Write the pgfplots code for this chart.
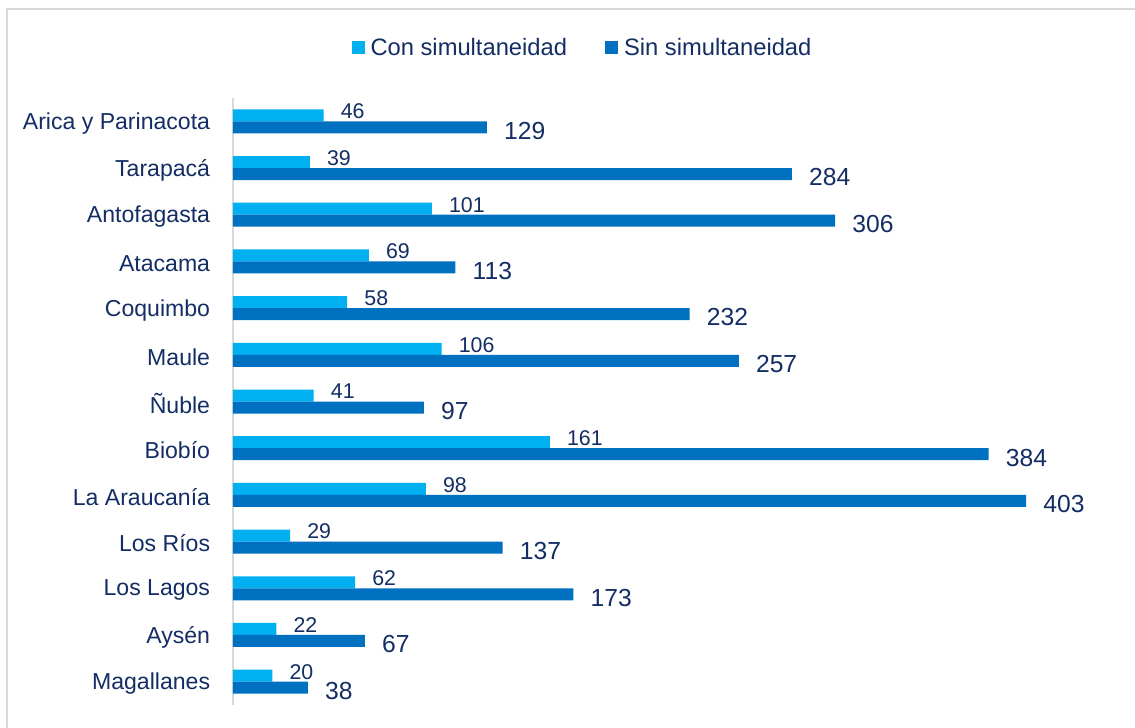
\documentclass[border=0pt]{standalone}
\usepackage{pgfplots}
\pgfplotsset{compat=1.18}
\usepackage{fontspec}
\setmainfont{Liberation Sans}
\definecolor{conc}{HTML}{00B0F0}
\definecolor{sinc}{HTML}{0070C0}
\definecolor{navy}{RGB}{20,45,100}
\definecolor{bordercol}{RGB}{217,217,217}
\definecolor{axcol}{RGB}{217,217,217}
\begin{document}
\begin{tikzpicture}
\useasboundingbox (0,0) rectangle (851.25pt,-546pt);
\clip (0,0) rectangle (851.25pt,-546pt);
\fill[white] (0,0) rectangle (851.25pt,-546pt);
\draw[bordercol, line width=1.5pt] (5.25pt,-6.75pt) rectangle (870pt,-570pt);
\begin{axis}[
  at={(174.75pt,-73.5pt)}, anchor=north west,
  scale only axis, width=664.2pt, height=455.25pt,
  xbar, xmin=0, xmax=450, ymin=-0.5, ymax=12.5,
  axis x line=none, axis y line*=left,
  y axis line style={draw=axcol, line width=0.9pt},
  xtick=\empty,
  ytick={0,...,12},
  yticklabels={Magallanes,Aysén,Los Lagos,Los Ríos,La Araucanía,Biobío,Ñuble,Maule,Coquimbo,Atacama,Antofagasta,Tarapacá,Arica y Parinacota},
  major tick length=0pt,
  yticklabel style={font=\fontsize{17.3}{20}\selectfont, text=navy, inner sep=0pt, xshift=-17pt, yshift=-1.5pt},
  /pgf/number format/assume math mode=true,
  bar width=9pt,
  clip=false,
  legend columns=2,
  legend style={at={(0.3935,1.083)}, anchor=center, draw=none, fill=none, inner sep=0pt,
    font=\fontsize{17.8}{20}\selectfont, text=navy,
    nodes={inner sep=0pt},
    /tikz/every odd column/.append style={column sep=4.5pt},
    /tikz/every even column/.append style={column sep=28.5pt}},
  legend image code/.code={\fill[#1] (0pt,-4.875pt) rectangle (9.75pt,4.875pt);},
]
\addplot+[bar shift=4.5pt, fill=conc, draw=none,
  nodes near coords,
  nodes near coords style={anchor=west, inner sep=0pt, xshift=12.75pt, yshift=3pt, font=\fontsize{16}{18}\selectfont, text=navy}]
  coordinates {(46,12) (39,11) (101,10) (69,9) (58,8) (106,7) (41,6) (161,5) (98,4) (29,3) (62,2) (22,1) (20,0)};
\addlegendentry{Con simultaneidad}
\addplot+[bar shift=-4.5pt, fill=sinc, draw=none,
  nodes near coords,
  nodes near coords style={anchor=west, inner sep=0pt, xshift=12.75pt, yshift=-2.5pt, font=\fontsize{18.5}{21}\selectfont, text=navy}]
  coordinates {(129,12) (284,11) (306,10) (113,9) (232,8) (257,7) (97,6) (384,5) (403,4) (137,3) (173,2) (67,1) (38,0)};
\addlegendentry{Sin simultaneidad}
\end{axis}
\end{tikzpicture}
\end{document}
